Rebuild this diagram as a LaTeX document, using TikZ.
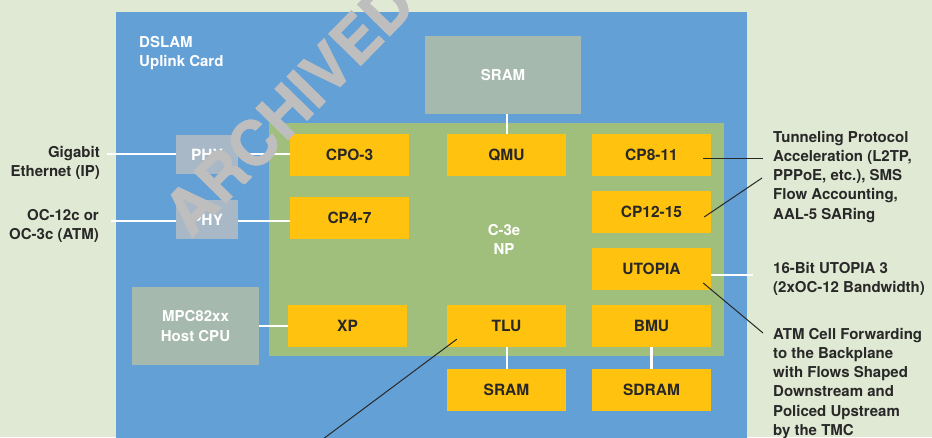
\documentclass[tikz,border=0pt]{standalone}
\usepackage{fontspec}
\setmainfont{TeX Gyre Heros}
\newfontfamily\wmfont[BoldFeatures={FakeBold=1.2}]{TeX Gyre Heros}
\definecolor{bgc}{RGB}{224,233,211}
\definecolor{bluec}{RGB}{98,160,214}
\definecolor{greenc}{RGB}{160,190,124}
\definecolor{yelc}{RGB}{255,194,14}
\definecolor{grayc}{RGB}{166,185,174}
\definecolor{phyc}{RGB}{168,184,198}
\definecolor{txtc}{RGB}{40,40,40}
\definecolor{wmc}{RGB}{190,190,190}
\tikzset{
  lbl/.style={font=\bfseries\fontsize{15}{19.2}\selectfont, text=txtc, inner sep=0pt},
  ybox/.style={fill=yelc, text=txtc, minimum width=119pt, minimum height=42pt, inner sep=0pt, font=\bfseries\fontsize{15.5}{18}\selectfont},
  gbox/.style={fill=grayc, text=white, inner sep=0pt, font=\bfseries\fontsize{15}{19.2}\selectfont, align=center},
  pbox/.style={fill=phyc, text=white, minimum width=62pt, minimum height=39pt, inner sep=0pt, font=\bfseries\fontsize{15.5}{18}\selectfont},
  wl/.style={draw=white, line width=2.2pt},
  bl/.style={draw=txtc, line width=1pt},
  wm/.style={text=wmc, inner sep=0pt, font=\wmfont\bfseries\fontsize{62}{62}\selectfont}
}
\begin{document}
\begin{tikzpicture}[x=1pt,y=-1pt]
\useasboundingbox (0,0) rectangle (932,437);
\clip (0,0) rectangle (932,437);
\fill[bgc] (0,0) rectangle (932,437);
\fill[bluec] (116,12) rectangle (747,440);
\fill[greenc] (269,123) rectangle (724,356);

% labels inside
\node[lbl, text=white, anchor=north west, align=left] (dslam) at (139,36) {DSLAM\\Uplink Card};
\node[lbl, text=white, anchor=north, align=center] (np) at (504,224) {C-3e\\NP};

% gray boxes
\node[gbox, minimum width=156pt, minimum height=78pt] (sramt) at (503,75) {SRAM};
\node[gbox, minimum width=127pt, minimum height=78pt] (mpc) at (195.5,326) {MPC82xx\\Host CPU};
\node[pbox] (phy1) at (207,154.5) {PHY};
\node[pbox] (phy2) at (207,219.5) {PHY};

% yellow boxes
\node[ybox] (cpo) at (349.5,155) {CPO-3};
\node[ybox] (qmu) at (506.5,155) {QMU};
\node[ybox] (cp811) at (651.5,155) {CP8-11};
\node[ybox] (cp47) at (349.5,218) {CP4-7};
\node[ybox] (cp1215) at (651.5,212) {CP12-15};
\node[ybox] (utopia) at (651.5,269) {UTOPIA};
\node[ybox] (xp) at (347.5,326) {XP};
\node[ybox] (tlu) at (506.5,326) {TLU};
\node[ybox] (bmu) at (651.5,326) {BMU};
\node[ybox] (sramb) at (506.5,390) {SRAM};
\node[ybox] (sdram) at (651.5,390) {SDRAM};

% outside labels
\node[lbl, anchor=north east, align=right] (gig) at (100,146) {Gigabit\\Ethernet (IP)};
\node[lbl, anchor=north east, align=right] (oc) at (99,209) {OC-12c or\\OC-3c (ATM)};
\node[lbl, anchor=north west, align=left] (tun) at (773,131) {Tunneling Protocol\\Acceleration (L2TP,\\PPPoE, etc.), SMS\\Flow Accounting,\\AAL-5 SARing};
\node[lbl, anchor=north west, align=left] (utl) at (773,262) {16-Bit UTOPIA 3\\(2xOC-12 Bandwidth)};
\node[lbl, anchor=north west, align=left] (atm) at (773,328) {ATM Cell Forwarding\\to the Backplane\\with Flows Shaped\\Downstream and\\Policed Upstream\\by the TMC};

% coordinates for free ends
\coordinate (gigend) at (107,154);
\coordinate (ocend) at (111,221);
\coordinate (utend) at (753,275);
\coordinate (tunA) at (763,158);
\coordinate (tunB) at (762,178);
\coordinate (atmA) at (763,333);
\coordinate (tluend) at (311,448);

% white connectors
\draw[wl] (gigend) -- (gigend -| phy1.west);
\draw[wl] (phy1.east |- gigend) -- (gigend -| cpo.west);
\draw[wl] (ocend) -- (ocend -| phy2.west);
\draw[wl] (phy2.east |- ocend) -- (ocend -| cp47.west);
\draw[wl] (mpc.east) -- (xp.west);
\draw[wl] ([xshift=0.5pt]qmu.north) -- ([xshift=0.5pt]qmu.north |- sramt.south);
\draw[wl] ([xshift=0.5pt]tlu.south) -- ([xshift=0.5pt]sramb.north);
\draw[wl] (bmu.south) -- (sdram.north);
\draw[wl] (utend -| utopia.east) -- (utend);

% black connectors
\draw[bl] ([shift={(-8,3)}]cp811.east) -- (tunA);
\draw[bl] ([shift={(-7,5)}]cp1215.east) -- (tunB);
\draw[bl] ([shift={(-8,14)}]utopia.east) -- (atmA);
\draw[bl] ([shift={(10,-8)}]tlu.south west) -- (tluend);

% watermark
\node[wm, rotate=45.6, anchor=base west] (arch) at (191,239) {ARCHIVED};
\end{tikzpicture}
\end{document}
